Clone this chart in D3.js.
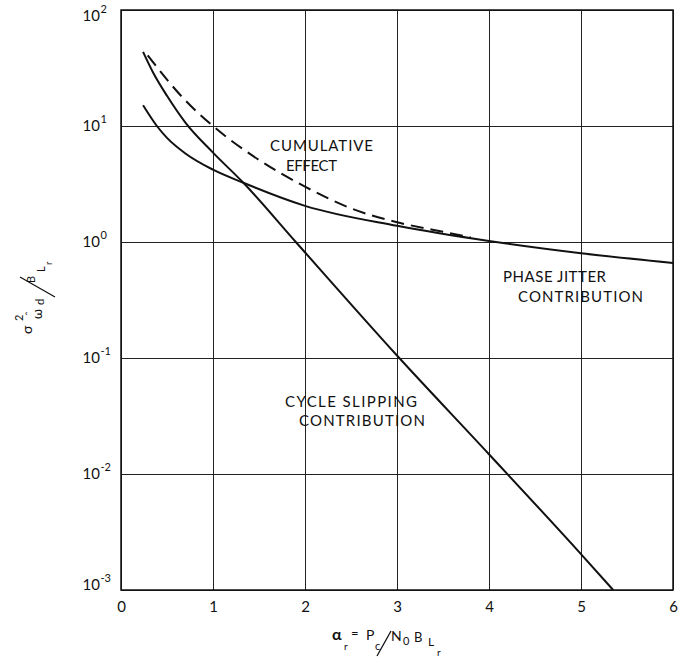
<!DOCTYPE html>
<html lang="en">
<head>
  <meta charset="UTF-8">
  <title>Cycle slipping and phase jitter contributions</title>
  <script src="https://d3js.org/d3.v7.min.js"></script>
  <style>
    body { margin: 0; background: white; }
    svg { display: block; }
    text { font-family: Lato, 'DejaVu Sans', sans-serif; fill: #111; }
    .grid line { stroke: #222; stroke-width: 1; }
    .grid path { display: none; }
  </style>
</head>
<body>
  <div id="chart"></div>
  <script>

    // values (x = loop SNR, y = variance)
    const xTicks = [0, 1, 2, 3, 4, 5, 6]
    const yTicks = [1e-3, 1e-2, 1e-1, 1e0, 1e1, 1e2]
    const yExponents = ['-3', '-2', '-1', '0', '1', '2']

    const cycleX = [0.24, 0.35, 0.5, 0.7, 1.0, 1.33, 1.9, 3.0, 4.0, 5.0, 5.35]
    const cycleY = [43.6, 28.8, 18.2, 10.7, 5.9, 3.24, 1.0, 0.105, 0.0148, 0.00204, 0.001]

    const jitterX = [0.24, 0.39, 0.5, 0.7, 1.0, 1.33, 2.0, 3.0, 4.0, 5.0, 6.0]
    const jitterY = [15.1, 10.0, 7.9, 5.8, 4.2, 3.24, 2.05, 1.38, 1.02, 0.80, 0.66]

    const cumX = [0.29, 0.5, 0.7, 1.0, 1.5, 2.0, 2.5, 3.0, 3.4, 3.8]
    const cumY = [40.7, 25.1, 16.6, 10, 5.1, 3.0, 1.95, 1.48, 1.27, 1.10]

    const width = 685
    const height = 664
    const margin = { left: 121, right: 12, top: 10, bottom: 74 }

    const svg = d3.select('#chart')
      .append('svg')
      .attr('width', width)
      .attr('height', height)

    const x = d3.scaleLinear()
      .domain([0, 6])
      .range([margin.left, width - margin.right])

    const y = d3.scaleLog()
      .domain([1e-3, 1e2])
      .range([height - margin.bottom, margin.top])

    const plotW = x.range()[1] - x.range()[0]
    const plotH = y.range()[0] - y.range()[1]

    // grid + x tick labels
    const xAxis = svg.append('g')
      .attr('class', 'grid')
      .attr('transform', `translate(0,${y.range()[0]})`)
      .call(d3.axisBottom(x).tickValues(xTicks).tickSize(-plotH).tickPadding(8).tickFormat(d3.format('d')))
    xAxis.selectAll('text')
      .style('font-size', '15px')
      .attr('dy', '0.95em')

    const yAxis = svg.append('g')
      .attr('class', 'grid')
      .attr('transform', `translate(${x.range()[0]},0)`)
      .call(d3.axisLeft(y).tickValues(yTicks).tickSize(-plotW).tickFormat(''))

    // y tick labels 10^n
    const yLab = svg.append('g')
    yTicks.forEach((t, i) => {
      let yy = y(t) + 5
      if (i === 0) yy -= 5
      if (i === yTicks.length - 1) yy += 6
      yLab.append('text')
        .attr('x', 100).attr('y', yy)
        .attr('text-anchor', 'end')
        .style('font-size', '15px')
        .text('10')
      yLab.append('text')
        .attr('x', 100.5).attr('y', yy - 8)
        .style('font-size', '11px')
        .text(yExponents[i])
    })

    // frame
    svg.append('rect')
      .attr('x', x.range()[0]).attr('y', y.range()[1])
      .attr('width', plotW).attr('height', plotH)
      .attr('fill', 'none')
      .attr('stroke', '#111')
      .attr('stroke-width', 1.5)

    const line = d3.line()
      .x(d => x(d[0]))
      .y(d => y(d[1]))
      .curve(d3.curveMonotoneX)

    const series = [
      { xs: cycleX, ys: cycleY, dash: null },
      { xs: jitterX, ys: jitterY, dash: null },
      { xs: cumX, ys: cumY, dash: '13,7' }
    ]

    svg.selectAll('path.curve')
      .data(series)
      .enter().append('path')
      .attr('class', 'curve')
      .attr('d', s => line(s.xs.map((v, i) => [v, s.ys[i]])))
      .attr('fill', 'none')
      .attr('stroke', '#111')
      .attr('stroke-width', 2)
      .attr('stroke-dasharray', s => s.dash)

    // annotations
    const notes = [
      ['CUMULATIVE', 270, 151, 103],
      ['EFFECT', 286, 171, 51],
      ['PHASE JITTER', 503, 282, 103],
      ['CONTRIBUTION', 518, 302, 125],
      ['CYCLE SLIPPING', 285, 407, 132],
      ['CONTRIBUTION', 299, 426, 126]
    ]
    notes.forEach(n => {
      svg.append('text')
        .attr('x', n[1]).attr('y', n[2])
        .attr('textLength', n[3])
        .attr('lengthAdjust', 'spacing')
        .style('font-size', '15px')
        .text(n[0])
    })

    // x axis title: a_r = P_c / N_0 B_Lr
    const xt = svg.append('g')
    const xpart = (t, px, py, fs) => xt.append('text').attr('x', px).attr('y', py).style('font-size', fs + 'px').text(t)
    xpart('α', 332, 640, 16).style('font-weight', 'bold')
    xpart('r', 344, 650, 10)
    xpart('=', 351, 638, 13)
    xpart('P', 366, 640, 14)
    xpart('c', 375, 650, 11)
    xt.append('line')
      .attr('x1', 377).attr('y1', 656).attr('x2', 391).attr('y2', 631)
      .attr('stroke', '#111').attr('stroke-width', 1.3)
    xpart('N', 391, 641, 14)
    xpart('0', 403, 645, 11)
    xpart('B', 414, 642, 13)
    xpart('L', 428, 646, 12)
    xpart('r', 437, 656, 10)

    // y axis title: sigma^2_(omega-hat d) / B_Lr, rotated
    const yt = svg.append('g').attr('transform', 'translate(32,334) rotate(-90)')
    const ypart = (t, u, v, fs) => yt.append('text').attr('x', u).attr('y', v).style('font-size', fs + 'px').text(t)
    ypart('σ', 0, 0, 14)
    ypart('2', 13, -9, 11)
    ypart('ω', 15, 10, 13)
    ypart('ˆ', 18, 2, 12)
    ypart('d', 29, 12, 11)
    yt.append('line')
      .attr('x1', 37).attr('y1', 23).attr('x2', 57).attr('y2', -12)
      .attr('stroke', '#111').attr('stroke-width', 1.3)
    ypart('B', 51, 3, 11)
    ypart('L', 62, 13, 11)
    ypart('r', 69, 20, 9)

  </script>
</body>
</html>
